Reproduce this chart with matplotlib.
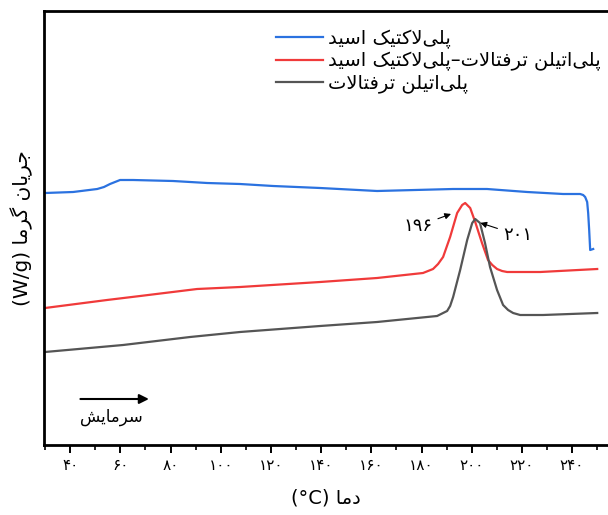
import numpy as np
import matplotlib
matplotlib.use('Agg')
import matplotlib.pyplot as plt

# Data (temperature in °C, heat flow in arbitrary units)
pla_t = [30.0, 41.2, 50.8, 53.5, 55.9, 57.9, 59.9, 65.1, 81.0, 94.6, 107.7, 120.9,
         139.6, 162.3, 192.6, 206.1, 222.1, 236.4, 243.2, 244.4, 245.2, 246.0,
         246.4, 246.8, 247.2, 248.4]
pla_v = [2.52, 2.53, 2.56, 2.58, 2.61, 2.63, 2.65, 2.65, 2.64, 2.62, 2.61, 2.59,
         2.57, 2.54, 2.56, 2.56, 2.53, 2.51, 2.51, 2.50, 2.48, 2.43,
         2.32, 2.15, 1.95, 1.96]

blend_t = [30.0, 54.7, 67.9, 90.6, 107.7, 139.6, 162.3, 180.6, 184.6, 186.6, 188.6,
           191.4, 194.2, 196.2, 197.4, 199.4, 201.4, 204.1, 206.5, 208.2, 210.1,
           212.1, 214.1, 227.3, 250.0]
blend_v = [1.37, 1.45, 1.49, 1.56, 1.58, 1.63, 1.67, 1.72, 1.76, 1.81, 1.88,
           2.08, 2.32, 2.40, 2.42, 2.37, 2.23, 2.02, 1.85, 1.80, 1.76,
           1.74, 1.73, 1.73, 1.76]

pet_t = [30.0, 61.1, 87.8, 107.7, 139.6, 162.3, 186.2, 190.2, 191.4, 192.6, 195.4,
         198.2, 200.2, 201.4, 203.3, 205.3, 207.3, 210.1, 212.5, 214.5, 216.5,
         219.3, 228.4, 250.0]
pet_v = [0.93, 1.00, 1.08, 1.13, 1.19, 1.23, 1.29, 1.34, 1.39, 1.48, 1.75,
         2.05, 2.22, 2.26, 2.22, 2.02, 1.78, 1.55, 1.40, 1.35, 1.32,
         1.30, 1.30, 1.32]

x_ticks = [40, 60, 80, 100, 120, 140, 160, 180, 200, 220, 240]

# Persian shaping (matplotlib does no Arabic shaping / bidi)
FORMS = {
    'ا': ('\uFE8D', '\uFE8E', None, None),
    'د': ('\uFEA9', '\uFEAA', None, None),
    'ر': ('\uFEAD', '\uFEAE', None, None),
    'لا': ('\uFEFB', '\uFEFC', None, None),
    'پ': ('\uFB56', '\uFB57', '\uFB58', '\uFB59'),
    'ت': ('\uFE95', '\uFE96', '\uFE97', '\uFE98'),
    'ج': ('\uFE9D', '\uFE9E', '\uFE9F', '\uFEA0'),
    'س': ('\uFEB1', '\uFEB2', '\uFEB3', '\uFEB4'),
    'ش': ('\uFEB5', '\uFEB6', '\uFEB7', '\uFEB8'),
    'ف': ('\uFED1', '\uFED2', '\uFED3', '\uFED4'),
    'ک': ('\uFB8E', '\uFB8F', '\uFB90', '\uFB91'),
    'گ': ('\uFB92', '\uFB93', '\uFB94', '\uFB95'),
    'ل': ('\uFEDD', '\uFEDE', '\uFEDF', '\uFEE0'),
    'م': ('\uFEE1', '\uFEE2', '\uFEE3', '\uFEE4'),
    'ن': ('\uFEE5', '\uFEE6', '\uFEE7', '\uFEE8'),
    'ی': ('\uFBFC', '\uFBFD', '\uFBFE', '\uFBFF'),
}


def fa(text):
    units = []
    i = 0
    while i < len(text):
        if text[i] == 'ل' and i + 1 < len(text) and text[i + 1] == 'ا':
            units.append('لا')
            i += 2
        else:
            units.append(text[i])
            i += 1
    out = []
    for k, u in enumerate(units):
        if u not in FORMS:
            out.append(u)
            continue
        prev = units[k - 1] if k > 0 else None
        nxt = units[k + 1] if k + 1 < len(units) else None
        jp = prev in FORMS and FORMS[prev][2] is not None
        jn = FORMS[u][2] is not None and nxt in FORMS
        iso, fin, ini, med = FORMS[u]
        out.append(med if jp and jn else fin if jp else ini if jn else iso)
    return ''.join(out).replace('\u200c', '')[::-1]


def fa_num(n):
    return str(n).translate(str.maketrans('0123456789', '۰۱۲۳۴۵۶۷۸۹'))


plt.rcParams['font.family'] = ['DejaVu Sans']

fig = plt.figure(figsize=(6.08, 5.15), dpi=100)
ax = fig.add_axes([44 / 608, 70 / 515, 564 / 608, 434 / 515])

ax.plot(pla_t, pla_v, color='#2b72e0', lw=1.6, label=fa('پلی\u200cلاکتیک اسید'))
ax.plot(blend_t, blend_v, color='#f03a3a', lw=1.6,
        label=fa('پلی\u200cاتیلن ترفتالات–پلی\u200cلاکتیک اسید'))
ax.plot(pet_t, pet_v, color='#555555', lw=1.6, label=fa('پلی\u200cاتیلن ترفتالات'))

ax.set_xlim(29.6, 254.3)
ax.set_ylim(0, 4.34)
ax.set_yticks([])
ax.set_xticks(x_ticks)
ax.set_xticklabels([fa_num(t) for t in x_ticks], fontsize=11)
ax.set_xticks(np.arange(30, 255, 10), minor=True)
ax.tick_params(axis='x', which='major', length=6, width=1.4, direction='out')
ax.tick_params(axis='x', which='minor', length=3.5, width=1.2, direction='out')
for side in ['left', 'bottom', 'top']:
    ax.spines[side].set_linewidth(2)
ax.spines['right'].set_visible(False)

ax.set_xlabel('(°C) ' + fa('دما'), fontsize=14, labelpad=11)
ax.set_ylabel('(W/g) ' + fa('جریان گرما'), fontsize=14.5, labelpad=8)

# peak annotations
arrow = dict(arrowstyle='-|>', color='k', lw=0.8, mutation_scale=9)
ax.annotate(fa_num(196), xy=(192.8, 2.32), xytext=(178.6, 2.19), fontsize=13,
            ha='center', va='center', arrowprops=arrow)
ax.annotate(fa_num(201), xy=(202.4, 2.23), xytext=(218.2, 2.10), fontsize=13,
            ha='center', va='center', arrowprops=arrow)

# cooling direction
ax.annotate('', xy=(72.5, 0.46), xytext=(43.0, 0.46),
            arrowprops=dict(arrowstyle='-|>', color='k', lw=1.5, mutation_scale=14))
ax.text(44.0, 0.28, fa('سرمایش'), fontsize=12, ha='left', va='center')

ax.legend(loc='upper left', bbox_to_anchor=(276 / 608, 1 - 29 / 515),
          bbox_transform=fig.transFigure, frameon=False, fontsize=14,
          handlelength=2.4, handletextpad=0.3, labelspacing=0.14,
          borderpad=0, borderaxespad=0)

fig.savefig('out.png', dpi=100)
